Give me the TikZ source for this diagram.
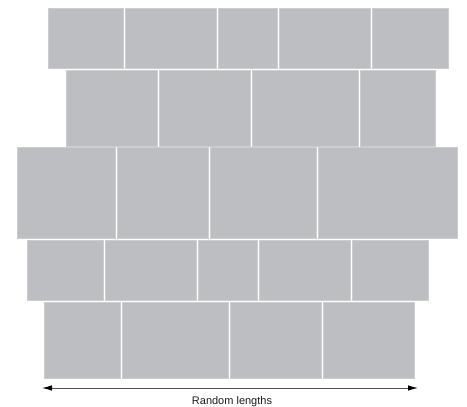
\documentclass[tikz,border=0pt]{standalone}
\usepackage{fontspec}
\setmainfont{Liberation Sans}
\usetikzlibrary{arrows.meta}
\definecolor{tilegray}{RGB}{189,190,194}
\definecolor{tileedge}{RGB}{204,205,207}
\definecolor{linegray}{RGB}{85,85,85}
\definecolor{textdark}{RGB}{30,30,30}
\begin{document}
\begin{tikzpicture}[x=1pt,y=-1pt,
  tile/.style={fill=tilegray,draw=tileedge,line width=0.5pt},
  dimline/.style={draw=linegray,line width=0.9pt,
    {Latex[length=10pt,width=5.5pt,black]}-{Latex[length=10pt,width=5.5pt,black]}},
  dimlabel/.style={text=textdark,font=\fontsize{11}{13}\selectfont,anchor=base,inner sep=0pt}]
\useasboundingbox (0,0) rectangle (467,407);
% row 1
\foreach \a/\b in {48/123,125/216,218/277.5,279.5/370,372/448}
  \draw[tile] (\a,8) rectangle (\b,68);
% row 2
\foreach \a/\b in {66/157,159/250,252/358,360/435}
  \draw[tile] (\a,70.2) rectangle (\b,145.8);
% row 3
\foreach \a/\b in {17/115,117/208,210/316.5,318.5/457}
  \draw[tile] (\a,147.5) rectangle (\b,238);
% row 4
\foreach \a/\b in {27/103,105/196,198/257.5,259.5/350,352/428}
  \draw[tile] (\a,240.2) rectangle (\b,300);
% row 5
\foreach \a/\b in {44/120,122/228.5,230.5/321,323/414}
  \draw[tile] (\a,302.2) rectangle (\b,378);
% dimension arrow
\coordinate (L) at (42,388);
\coordinate (R) at (418,388);
\draw[dimline] (L) -- (R);
\node[dimlabel] (lbl) at (232,404) {Random lengths};
\end{tikzpicture}
\end{document}
